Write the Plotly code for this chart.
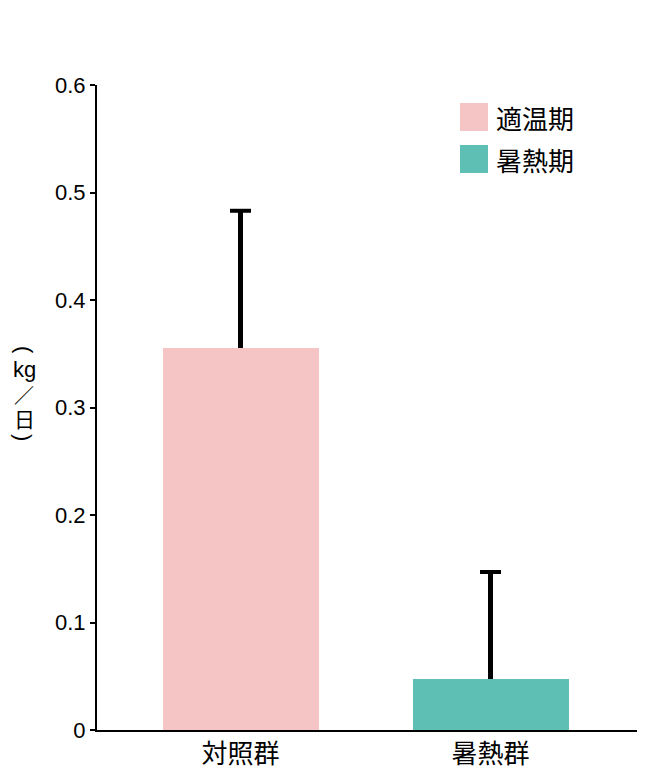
import plotly.graph_objects as go

categories = ["対照群", "暑熱群"]
series_names = ["適温期", "暑熱期"]
values = [0.355, 0.047]
err_plus = [0.128, 0.100]
colors = ["#F5C4C4", "#5EBFB5"]
y_ticks = [0, 0.1, 0.2, 0.3, 0.4, 0.5, 0.6]
y_tick_labels = ["0", "0.1", "0.2", "0.3", "0.4", "0.5", "0.6"]

FONT = "Noto Sans CJK JP, Noto Sans, sans-serif"
NUMFONT = "Liberation Sans, Arial, sans-serif"

# page body has an 8px margin; plot area target: x 97..637, y 85..730
L, R, T, B = 89, 24, 77, 58
PW, PH = 540, 645

fig = go.Figure()
for i, (name, v, e, c) in enumerate(zip(series_names, values, err_plus, colors)):
    fig.add_trace(go.Bar(
        x=[i], y=[v], name=name, marker=dict(color=c, line=dict(width=0)),
        width=0.624,
        error_y=dict(type="data", symmetric=False, array=[e], arrayminus=[0],
                     color="black", thickness=4.5, width=0),
        showlegend=False,
    ))

# error-bar caps at the top only
fig.add_trace(go.Scatter(
    x=list(range(len(categories))),
    y=[v + e for v, e in zip(values, err_plus)],
    mode="markers",
    marker=dict(symbol="line-ew-open", size=15, color="black",
                line=dict(color="black", width=4)),
    showlegend=False, hoverinfo="skip",
))

# legend swatches (paper coords)
leg_cy = [117, 159]
for name, c, cy in zip(series_names, colors, leg_cy):
    yy = (730 - cy) / PH
    fig.add_shape(type="rect", xref="paper", yref="paper",
                  x0=(460 - 97) / PW, x1=(488 - 97) / PW,
                  y0=yy - 14 / PH, y1=yy + 14 / PH,
                  fillcolor=c, line=dict(width=0))
    fig.add_annotation(xref="paper", yref="paper", x=(494 - 97) / PW, y=yy,
                       text=name, showarrow=False, xanchor="left", yanchor="middle",
                       font=dict(family=FONT, size=26, color="black"))

# vertical y-axis title (kg／日)
title_parts = [("(", 350, 90, NUMFONT, 22), ("kg", 369, 0, NUMFONT, 22),
               ("／", 394, 0, FONT, 20), ("日", 418, 0, FONT, 21),
               (")", 437, 90, NUMFONT, 22)]
for txt, cy, ang, fam, sz in title_parts:
    fig.add_annotation(xref="paper", yref="paper", x=(24 - 97) / PW, y=(730 - cy) / PH,
                       text=txt, showarrow=False, xanchor="center", yanchor="middle",
                       textangle=ang,
                       font=dict(family=fam, size=sz, color="black"))

fig.update_layout(
    width=653, height=780,
    margin=dict(l=L, r=R, t=T, b=B),
    plot_bgcolor="white", paper_bgcolor="white",
    xaxis=dict(range=[-0.574, 1.586], tickvals=[0, 1], ticktext=categories,
               showline=True, linecolor="black", linewidth=2, ticks="",
               showgrid=False, zeroline=False,
               tickfont=dict(family=FONT, size=26, color="black")),
    yaxis=dict(range=[0, 0.6], tickvals=y_ticks, ticktext=y_tick_labels,
               showline=True, linecolor="black", linewidth=2,
               ticks="outside", ticklen=5, tickwidth=2, tickcolor="black",
               showgrid=False, zeroline=False,
               tickfont=dict(family=NUMFONT, size=22, color="black")),
    bargap=0,
)

fig.write_html("out.html")
